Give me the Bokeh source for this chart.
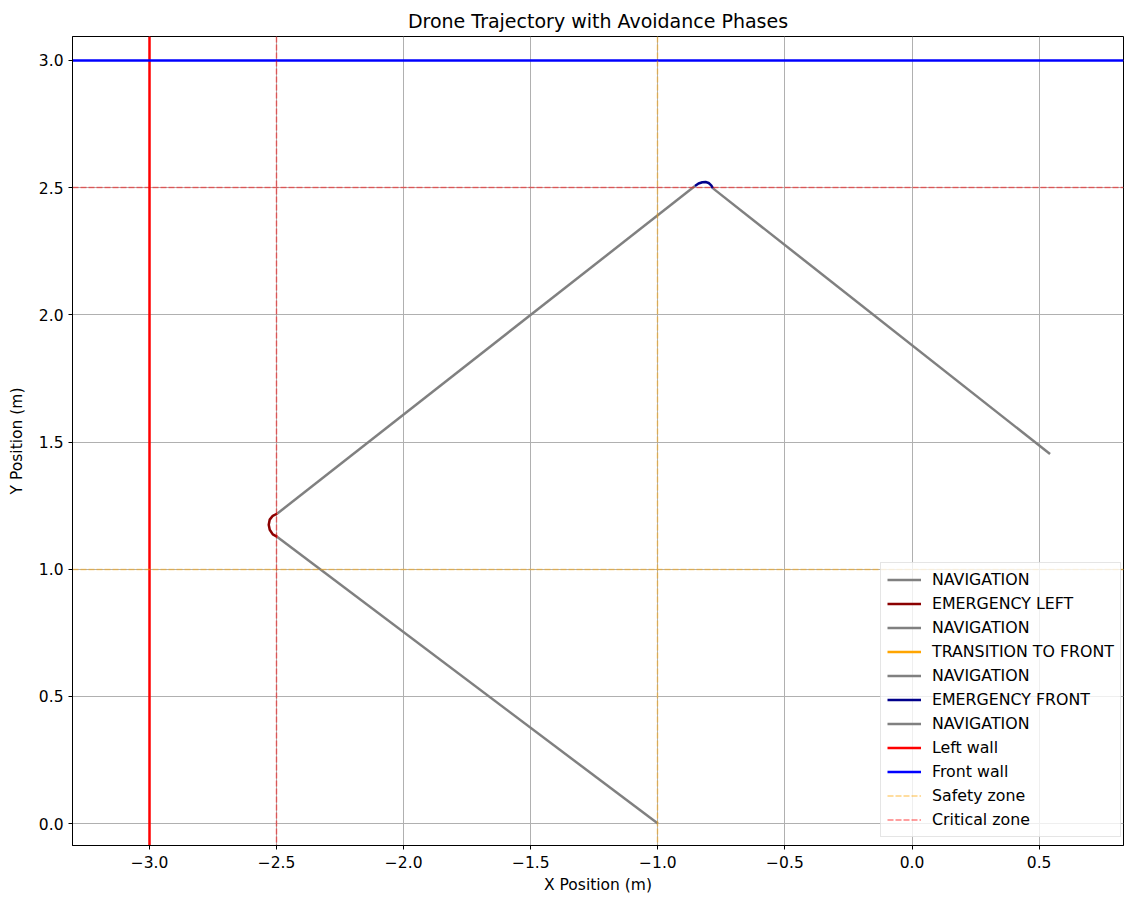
from bokeh.plotting import figure
from bokeh.models import Legend, LegendItem, FixedTicker, CustomJSTickFormatter, Range1d
from bokeh.core.properties import value
from bokeh.embed import file_html
from bokeh.resources import INLINE

# ---- data ----
nav1_x = [-1.0, -2.497]
nav1_y = [0.0, 1.127]
emerg_left_x = [-2.497, -2.515, -2.527, -2.531, -2.527, -2.515, -2.497]
emerg_left_y = [1.127, 1.137, 1.155, 1.175, 1.195, 1.210, 1.219]
nav2_x = [-2.497, -0.854]
nav2_y = [1.219, 2.506]
trans_x = [-0.854]
trans_y = [2.506]
nav3_x = [-0.854]
nav3_y = [2.506]
emerg_front_x = [-0.854, -0.840, -0.825, -0.812, -0.800, -0.790, -0.783]
emerg_front_y = [2.506, 2.516, 2.521, 2.522, 2.518, 2.509, 2.497]
nav4_x = [-0.783, 0.543]
nav4_y = [2.497, 1.453]

left_wall_x = -3.0
front_wall_y = 3.0
safety_x = -1.0
safety_y = 1.0
critical_x = -2.5
critical_y = 2.5

x_ticks = [-3.0, -2.5, -2.0, -1.5, -1.0, -0.5, 0.0, 0.5]
y_ticks = [0.0, 0.5, 1.0, 1.5, 2.0, 2.5, 3.0]

FONT = "DejaVu Sans"
DASH = value("6 2")
FS = "15.5px"

p = figure(output_backend="svg", toolbar_location=None,
           frame_width=1051, frame_height=809,
           x_range=Range1d(-3.303, 0.832), y_range=Range1d(-0.086, 3.094),
           title="Drone Trajectory with Avoidance Phases",
           min_border_left=72, min_border_right=2, min_border_top=36, min_border_bottom=0)

p.title.align = "center"
p.title.text_font = FONT
p.title.text_font_size = "19px"
p.title.text_font_style = "normal"
p.title.text_color = "black"

fmt = CustomJSTickFormatter(code="return tick.toFixed(1).replace('-', '\u2212');")
for ax, ticks in ((p.xaxis[0], x_ticks), (p.yaxis[0], y_ticks)):
    ax.ticker = FixedTicker(ticks=ticks)
    ax.formatter = fmt
    ax.major_label_text_font = FONT
    ax.major_label_text_font_size = FS
    ax.major_label_text_color = "black"
    ax.axis_label_text_font = FONT
    ax.axis_label_text_font_size = FS
    ax.axis_label_text_font_style = "normal"
    ax.axis_label_text_color = "black"
    ax.minor_tick_line_color = None
    ax.major_tick_out = 4
    ax.major_tick_in = 0
    ax.axis_line_color = "black"
    ax.major_tick_line_color = "black"
p.xaxis.axis_label = "X Position (m)"
p.yaxis.axis_label = "Y Position (m)"
p.xaxis.axis_label_standoff = 5
p.xaxis.major_label_standoff = 6
p.yaxis.axis_label_standoff = 10
p.outline_line_color = "black"
p.outline_line_alpha = 1

p.xgrid.ticker = FixedTicker(ticks=x_ticks)
p.ygrid.ticker = FixedTicker(ticks=y_ticks)
p.grid.grid_line_color = "#b0b0b0"
p.grid.grid_line_width = 1
p.grid.grid_line_alpha = 1

LW = 2.5
r_nav1 = p.line(nav1_x, nav1_y, line_color="gray", line_width=LW)
r_el = p.line(emerg_left_x, emerg_left_y, line_color="darkred", line_width=LW)
r_nav2 = p.line(nav2_x, nav2_y, line_color="gray", line_width=LW)
r_tr = p.line(trans_x, trans_y, line_color="orange", line_width=LW)
r_nav3 = p.line(nav3_x, nav3_y, line_color="gray", line_width=LW)
r_ef = p.line(emerg_front_x, emerg_front_y, line_color="darkblue", line_width=LW)
r_nav4 = p.line(nav4_x, nav4_y, line_color="gray", line_width=LW)

r_lw = p.vspan(x=[left_wall_x], line_color="red", line_width=2.5)
r_fw = p.hspan(y=[front_wall_y], line_color="blue", line_width=2.5)

r_sv = p.vspan(x=[safety_x], line_color="orange", line_alpha=0.5, line_width=1.5, line_dash=DASH)
r_sh = p.hspan(y=[safety_y], line_color="orange", line_alpha=0.5, line_width=1.5, line_dash=DASH)
r_cv = p.vspan(x=[critical_x], line_color="red", line_alpha=0.5, line_width=1.5, line_dash=DASH)
r_ch = p.hspan(y=[critical_y], line_color="red", line_alpha=0.5, line_width=1.5, line_dash=DASH)

items = [
    LegendItem(label="NAVIGATION", renderers=[r_nav1]),
    LegendItem(label="EMERGENCY LEFT", renderers=[r_el]),
    LegendItem(label="NAVIGATION", renderers=[r_nav2]),
    LegendItem(label="TRANSITION TO FRONT", renderers=[r_tr]),
    LegendItem(label="NAVIGATION", renderers=[r_nav3]),
    LegendItem(label="EMERGENCY FRONT", renderers=[r_ef]),
    LegendItem(label="NAVIGATION", renderers=[r_nav4]),
    LegendItem(label="Left wall", renderers=[r_lw]),
    LegendItem(label="Front wall", renderers=[r_fw]),
    LegendItem(label="Safety zone", renderers=[r_sh]),
    LegendItem(label="Critical zone", renderers=[r_ch]),
]
legend = Legend(items=items, location=(808, 8))
legend.label_text_font = FONT
legend.label_text_font_size = "15.8px"
legend.label_text_color = "black"
legend.label_height = 21
legend.glyph_height = 21
legend.glyph_width = 34
legend.spacing = 3
legend.padding = 6
legend.margin = 0
legend.label_standoff = 11
legend.border_line_color = "#cccccc"
legend.border_line_width = 1
legend.background_fill_alpha = 0.8
p.add_layout(legend, "center")

open("out.html", "w").write(file_html(p, INLINE))
